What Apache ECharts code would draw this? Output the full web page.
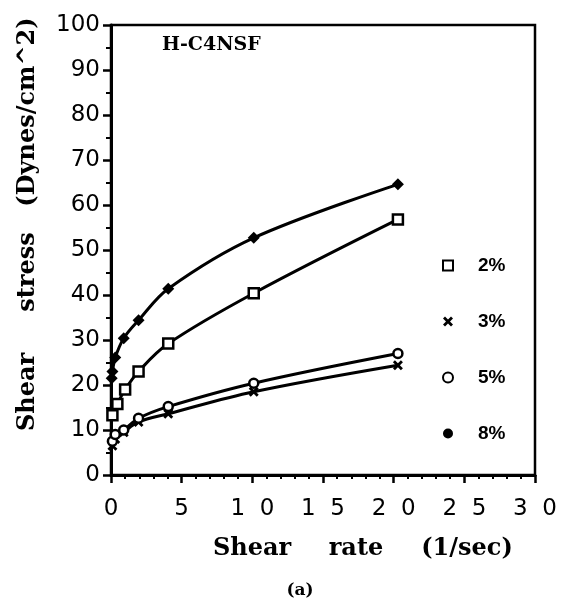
<!DOCTYPE html>
<html>
<head>
<meta charset="utf-8">
<script src="https://cdn.jsdelivr.net/npm/echarts@6/dist/echarts.min.js"></script>
<style>
  html, body { margin: 0; padding: 0; background: #fff; }
  #chart { width: 563px; height: 610px; }
</style>
</head>
<body>
<div id="chart"></div>
<script>
// Shear stress (dynes/cm^2) versus shear rate (1/sec) for H-C4NSF solutions
const conc2 = [[0.1, 13.3], [0.45, 15.8], [1.0, 19.0], [1.95, 23.0], [4.05, 29.2], [10.1, 40.4], [20.3, 56.8]];
const conc3 = [[0.1, 6.5], [0.3, 8.0], [0.9, 9.5], [1.95, 11.8], [4.05, 13.6], [10.1, 18.5], [20.3, 24.4]];
const conc5 = [[0.1, 7.5], [0.3, 9.0], [0.9, 10.0], [1.95, 12.6], [4.05, 15.2], [10.1, 20.4], [20.3, 27.0]];
const conc8 = [[0.05, 21.5], [0.1, 23.0], [0.3, 26.1], [0.9, 30.4], [1.95, 34.4], [4.05, 41.4], [10.1, 52.7], [20.3, 64.6]];
const seriesNames = ['2%', '3%', '5%', '8%'];
const xTicks = [0, 5, 10, 15, 20, 25, 30];

const crossPath = 'path://M0,2 L2,0 L5,3 L8,0 L10,2 L7,5 L10,8 L8,10 L5,7 L2,10 L0,8 L3,5 Z';

const chart = echarts.init(document.getElementById('chart'), null, { renderer: 'canvas' });

function lineSeries(name, data, symbol, size, fill) {
  return {
    name: name,
    type: 'line',
    data: data,
    smooth: 0.35,
    symbol: symbol,
    symbolSize: size,
    showAllSymbol: true,
    lineStyle: { color: '#000', width: 3 },
    itemStyle: { color: fill, borderColor: '#000', borderWidth: fill === '#fff' ? 2.5 : 0 },
    emphasis: { disabled: true },
    z: 3
  };
}

const serifBold = 'bold 24px "DejaVu Serif"';

chart.setOption({
  animation: false,
  backgroundColor: '#fff',
  grid: {
    left: 111, right: 28, top: 25, bottom: 135,
    show: true, borderColor: '#000', borderWidth: 2.5
  },
  xAxis: {
    type: 'value', min: 0, max: 30, interval: 5,
    axisLine: { show: true, lineStyle: { color: '#000', width: 3 } },
    axisTick: { show: true, length: 8, lineStyle: { color: '#000', width: 2.5 } },
    minorTick: { show: true, splitNumber: 5, length: 4, lineStyle: { color: '#000', width: 2 } },
    splitLine: { show: false },
    axisLabel: {
      margin: 23, color: '#000', fontFamily: 'DejaVu Sans', fontSize: 23,
      formatter: function (v) { return String(xTicks[xTicks.indexOf(v)]).split('').join('  '); }
    }
  },
  yAxis: {
    type: 'value', min: 0, max: 100, interval: 10,
    axisLine: { show: true, lineStyle: { color: '#000', width: 3 } },
    axisTick: { show: true, length: 8, lineStyle: { color: '#000', width: 2.5 } },
    minorTick: { show: true, splitNumber: 2, length: 5, lineStyle: { color: '#000', width: 2 } },
    splitLine: { show: false },
    axisLabel: { margin: 11, color: '#000', fontFamily: 'DejaVu Sans', fontSize: 23 }
  },
  legend: {
    orient: 'vertical', left: 437, top: 251,
    itemWidth: 10, itemHeight: 10, itemGap: 37,
    selectedMode: false,
    textStyle: { color: '#000', fontFamily: 'Liberation Sans', fontWeight: 'bold', fontSize: 19, padding: [0, 0, 0, 20] },
    data: [
      { name: seriesNames[0], icon: 'rect' },
      { name: seriesNames[1], icon: crossPath },
      { name: seriesNames[2], icon: 'circle' },
      { name: seriesNames[3], icon: 'circle' }
    ]
  },
  series: [
    lineSeries(seriesNames[0], conc2, 'rect', 10, '#fff'),
    lineSeries(seriesNames[1], conc3, crossPath, 10, '#000'),
    lineSeries(seriesNames[2], conc5, 'circle', 9, '#fff'),
    lineSeries(seriesNames[3], conc8, 'diamond', 12, '#000')
  ],
  graphic: [
    { type: 'text', left: 162, top: 36, style: { text: 'H-C4NSF', font: 'bold 19px "DejaVu Serif"', fill: '#000' } },
    { type: 'text', x: 252, y: 549, style: { text: 'Shear', font: serifBold, fill: '#000', align: 'center', verticalAlign: 'middle' } },
    { type: 'text', x: 356, y: 549, style: { text: 'rate', font: serifBold, fill: '#000', align: 'center', verticalAlign: 'middle' } },
    { type: 'text', x: 467, y: 549, style: { text: '(1/sec)', font: serifBold, fill: '#000', align: 'center', verticalAlign: 'middle' } },
    { type: 'text', x: 28, y: 392, rotation: Math.PI / 2, style: { text: 'Shear', font: serifBold, fill: '#000', align: 'center', verticalAlign: 'middle' } },
    { type: 'text', x: 28, y: 272, rotation: Math.PI / 2, style: { text: 'stress', font: serifBold, fill: '#000', align: 'center', verticalAlign: 'middle' } },
    { type: 'text', x: 28, y: 112, rotation: Math.PI / 2, style: { text: '(Dynes/cm^2)', font: serifBold, fill: '#000', align: 'center', verticalAlign: 'middle' } },
    { type: 'text', x: 300, y: 591, style: { text: '(a)', font: 'bold 17px "DejaVu Serif"', fill: '#000', align: 'center', verticalAlign: 'middle' } }
  ]
});
</script>
</body>
</html>
